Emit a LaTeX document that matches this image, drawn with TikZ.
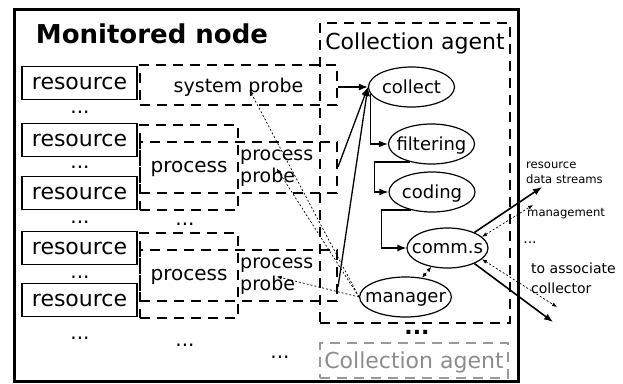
\documentclass[tikz,border=0pt]{standalone}
\usepackage{fontspec}
\setmainfont{DejaVu Sans}
\usetikzlibrary{shapes.geometric,arrows.meta,positioning}

\begin{document}
\begin{tikzpicture}
  [x=1pt,y=-1pt,
   res/.style={draw,line width=1.2pt,minimum width=115pt,minimum height=33pt,inner sep=0pt,text depth=0pt,font=\fontsize{22}{26}\selectfont},
   dbox/.style={draw,line width=2pt,dash pattern=on 10pt off 7pt,inner sep=0pt,text depth=0pt},
   act/.style={ellipse,draw,line width=1.2pt,minimum width=86pt,minimum height=40pt,inner xsep=-8pt,inner ysep=-6pt,text depth=0pt,font=\fontsize{18}{20}\selectfont},
   lbl/.style={font=\fontsize{19}{22}\selectfont,inner sep=0pt},
   small/.style={font=\fontsize{11.6}{15}\selectfont,inner sep=0pt,align=left,anchor=west},
   dots/.style={font=\fontsize{20}{22}\selectfont,inner sep=0pt},
   flow/.style={line width=1.3pt,-{Latex[length=9pt,width=7pt]}},
   ctrl/.style={line width=0.7pt,dash pattern=on 2pt off 2pt,-{Latex[length=5pt,width=4pt]}},
   ctrlboth/.style={ctrl,{Latex[length=5pt,width=4pt]}-{Latex[length=5pt,width=4pt]}}]

  \useasboundingbox (0,0) rectangle (623,383);
  \draw[line width=3pt] (14,9) rectangle (518,381);
  \node[font=\bfseries\fontsize{26}{30}\selectfont] (title) at (152,34) {Monitored node};

  % resources and the dots between them
  \foreach \i/\y in {1/83,2/140,3/193,4/248,5/300}
    \node[res] (r\i) at (79.5,\y) {resource};
  \foreach \x/\y [count=\i] in {80/112,80/167,80/222,185/224,80/277,80/338,185/345,280/357}
    \node[dots] (d\i) at (\x,\y) {...};

  % probes
  \node[dbox,lbl,minimum width=197pt,minimum height=40pt] (sys) at (238.5,85) {system probe};
  \foreach \k/\y in {1/167,2/275}{
    \node[dbox,minimum width=98pt,minimum height=85pt,font=\fontsize{20}{22}\selectfont] (proc\k) at (189,\y) {process};
    \node[dbox,minimum width=197pt,minimum height=51pt] (prb\k) at (238.5,\y) {};
    \node[lbl,align=left,anchor=west] (ppt\k) at (240,\y+1.5) {process\\probe};
  }

  % collection agents
  \node[dbox,line width=2.6pt,minimum width=190pt,minimum height=300pt] (agent) at (415,173) {};
  \node[font=\fontsize{22}{26}\selectfont,inner sep=0pt,below=11pt of agent.north] (agentlbl) {Collection agent};
  \node[dots,font=\bfseries\fontsize{22}{24}\selectfont] (d9) at (417,332) {...};
  \node[dbox,draw=black!40,text=black!45,line width=2.6pt,minimum width=188pt,minimum height=35pt,font=\fontsize{22}{26}\selectfont] (agent2) at (414,360.5) {Collection agent};

  \node[act] (collect) at (411.5,87) {collect};
  \node[act] (filter) at (431.5,144) {filtering};
  \node[act] (coding) at (432,192) {coding};
  \node[act,minimum width=81pt] (comm) at (447.5,248) {comm.s};
  \node[act] (manager) at (405.5,297) {manager};

  % data path
  \draw[flow] (sys.east |- collect.west) -- (collect.west);
  \draw[flow] (prb1.east) -- (collect.west);
  \draw[flow] ([yshift=-12pt]prb2.east) -- (collect.west);
  \draw[flow] (collect.190) |- (filter.west);
  \draw[flow] (filter.220) -| ([xshift=-14pt]coding.west) -- (coding.west);
  \draw[flow] (coding.220) -| ([xshift=-25pt]comm.west) -- (comm.west);

  % control from the manager
  \draw[ctrl] (manager.west) -- ([xshift=11pt,yshift=-5pt]sys.center);
  \draw[ctrl] (manager.west) -- (ppt1.center);
  \draw[ctrl] (manager.west) -- (ppt2.center);
  \draw[ctrlboth] (manager) -- (comm);

  % outside links
  \coordinate (outdata) at (542,187);
  \coordinate (outmgmt) at (533,205);
  \coordinate (outcoll) at (553,322);
  \coordinate (outcmgt) at (557,307);
  \draw[flow,line width=1.6pt] (comm.30) -- (outdata);
  \draw[ctrlboth] (comm.18) -- (outmgmt);
  \draw[flow,line width=1.6pt] (comm.-30) -- (outcoll);
  \draw[ctrlboth] (comm.-18) -- (outcmgt);

  \node[small] (ldata) at (526,173) {resource\\data streams};
  \node[small] (lmgmt) at (527,214) {management};
  \node[dots,font=\fontsize{14}{16}\selectfont] (d10) at (530,243) {...};
  \node[small,font=\fontsize{14}{20}\selectfont] (lcoll) at (531,278) {to associate\\collector};
\end{tikzpicture}
\end{document}
